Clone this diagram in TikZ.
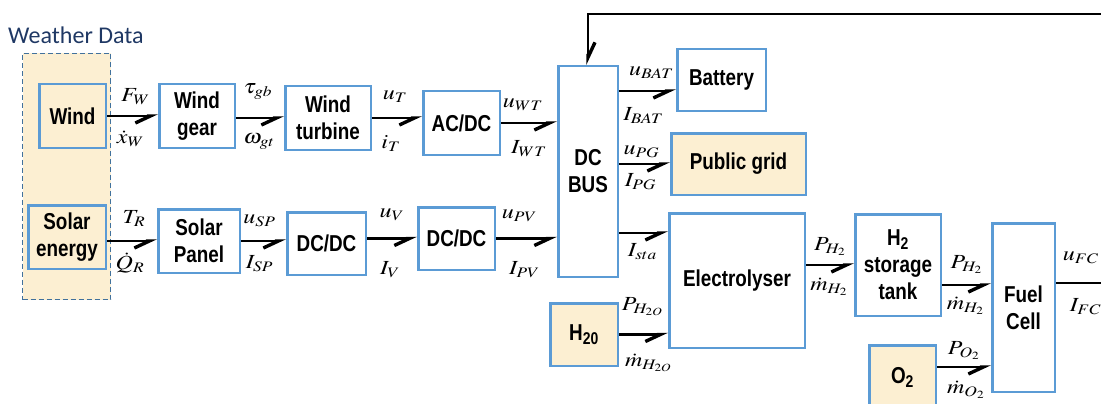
\documentclass[tikz,border=0pt]{standalone}
\usepackage{amsmath}
\usepackage{mathptmx}
\usepackage{graphicx}
\usepackage{fontspec}
\setmainfont{Liberation Sans}
\newfontfamily\boxfont[FakeStretch=0.82]{Liberation Sans}
\newfontfamily\titlefont{Carlito}
\usetikzlibrary{arrows.meta, positioning}
\definecolor{boxblue}{HTML}{5B9BD5}
\definecolor{srcfill}{HTML}{FCEFD2}
\definecolor{dashblue}{HTML}{41719C}
\definecolor{titleblue}{HTML}{1F3864}
\DeclareMathSizes{20}{20}{14.5}{11}
% wide math label, as in the drawing
\newcommand{\sig}[1]{\scalebox{1.2}[1]{$#1$}}

\begin{document}
\begin{tikzpicture}[x=1pt, y=-1pt,
    blk/.style={draw=boxblue, line width=2.5pt, fill=white, align=center, inner sep=0pt,
      font=\boxfont\bfseries\fontsize{23}{27}\selectfont},
    src/.style={blk, fill=srcfill},
    flow/.style={line width=2.8pt, -{Straight Barb[harpoon, swap, length=15pt, width=14pt, line width=3.4pt]}},
    flowdn/.style={line width=2.8pt, -{Straight Barb[harpoon, length=15pt, width=14pt, line width=3.4pt]}},
    lbl/.style={font=\fontsize{20}{24}\selectfont, inner sep=1pt, midway},
    up/.style={lbl, above=#1},
    dn/.style={lbl, below=#1}]
  \useasboundingbox (0,0) rectangle (1101,404);
  % Weather data
  \node[draw=dashblue, line width=1.5pt, dash pattern=on 5pt off 3pt, fill=srcfill,
        minimum width=88pt, minimum height=246pt] (wdata) at (66.5,176.5) {};
  \node[anchor=base west, text=titleblue, inner sep=0pt,
        font=\titlefont\fontsize{24}{26}\selectfont] (wtitle) at (8,44) {Weather Data};
  % Nodes
  \node[src, minimum width=66.5pt, minimum height=63.5pt] (wind) at (72.5,116) {Wind};
  \node[src, minimum width=77.5pt, minimum height=63.5pt] (solar) at (67,237) {Solar\\energy};
  \node[blk, minimum width=75.5pt, minimum height=63.5pt] (gear) at (197,116) {Wind\\gear};
  \node[blk, minimum width=81.5pt, minimum height=63.5pt] (panel) at (199,241) {Solar\\Panel};
  \node[blk, minimum width=85.5pt, minimum height=63.5pt] (turbine) at (328,118) {Wind\\turbine};
  \node[blk, minimum width=76.5pt, minimum height=63.5pt] (acdc) at (461.5,123) {AC/DC};
  \node[blk, minimum width=78.5pt, minimum height=62.5pt] (dcdc1) at (326.5,243.5) {DC/DC};
  \node[blk, minimum width=76.5pt, minimum height=62.5pt] (dcdc2) at (456.5,238.5) {DC/DC};
  \node[blk, minimum width=59.5pt, minimum height=210.5pt] (bus) at (588,171.5) {DC\\BUS};
  \node[blk, minimum width=88.5pt, minimum height=61.5pt] (battery) at (721.5,80) {Battery};
  \node[src, minimum width=134.5pt, minimum height=61.5pt] (grid) at (738.5,164) {Public grid};
  \node[blk, minimum width=135.5pt, minimum height=134.5pt] (elec) at (737,280.5) {Electrolyser};
  \node[src, minimum width=67.5pt, minimum height=62.5pt] (h2o) at (584,334.5) {H\textsubscript{20}};
  \node[blk, minimum width=85.5pt, minimum height=101.5pt] (tank) at (898,265) {H\textsubscript{2}\\storage\\tank};
  \node[blk, minimum width=62.5pt, minimum height=168.5pt] (fc) at (1023.5,307.5) {Fuel\\Cell};
  \node[src, minimum width=66.5pt, minimum height=63.5pt] (o2) at (902.5,377) {O\textsubscript{2}};
  % Helper points
  \coordinate (batin) at ([yshift=-11pt]battery.west);
  \coordinate (elin) at ([yshift=-21pt]elec.north west);
  \coordinate (fcin) at ([yshift=-20pt]tank.east);
  \coordinate (o2out) at ([yshift=-23pt]o2.north east);
  \coordinate (fcout) at ([yshift=-61pt]fc.north east);
  \coordinate (fcend) at (1115,0);
  \coordinate (fbstart) at (1115,14);
  % Edges
  \draw[flow] (wind) -- (gear) node[up=9pt, xshift=3pt] {\sig{F_W}} node[dn=12pt, xshift=-2pt] {\sig{\dot{x}_W}};
  \draw[flow] (gear.east |- turbine.west) -- (turbine.west) node[up=16pt, xshift=-2pt] {\sig{\tau_{gb}}} node[dn=13pt, xshift=-1pt] {\sig{\omega_{gt}}};
  \draw[flow] (turbine.east) -- (turbine.east -| acdc.west) node[up=13pt, xshift=-2pt] {\sig{u_T}} node[dn=15pt, xshift=-6pt] {\sig{i_T}};
  \draw[flow] (acdc.east) -- (acdc.east -| bus.west) node[up=10pt, xshift=-6pt] {\sig{u_{WT}}} node[dn=15pt] {\sig{I_{WT}}};
  \draw[flow] (solar.east |- panel.west) -- (panel.west) node[up=12pt, xshift=2pt] {\sig{T_R}} node[dn=9pt, xshift=-2pt] {\sig{\dot{Q}_R}};
  \draw[flow] (panel.east) -- (panel.east -| dcdc1.west) node[up=12pt, xshift=-4pt] {\sig{u_{SP}}} node[dn=12pt, xshift=-4pt] {\sig{I_{SP}}};
  \draw[flow] (dcdc1.east |- dcdc2.west) -- (dcdc2.west) node[up=15pt] {\sig{u_V}} node[dn=21pt, xshift=-2pt] {\sig{I_V}};
  \draw[flow] (dcdc2.east) -- (dcdc2.east -| bus.west) node[up=14pt, xshift=-7pt] {\sig{u_{PV}}} node[dn=21pt, xshift=-2pt] {\sig{I_{PV}}};
  \draw[flow] (bus.east |- batin) -- (batin) node[up=10pt, xshift=4pt] {\sig{u_{BAT}}} node[dn=14pt, xshift=-4pt] {\sig{I_{BAT}}};
  \draw[flow] (bus.east |- grid.west) -- (grid.west) node[up=4pt, xshift=-3pt] {\sig{u_{PG}}} node[dn=7pt, xshift=-4pt] {\sig{I_{PG}}};
  \draw[flow] (bus.east |- elin) -- (elin) node[dn=8pt, xshift=-1pt] {\sig{I_{sta}}};
  \draw[flow] (h2o.east) -- (h2o.east -| elec.west) node[up=16pt, xshift=-1pt] {\sig{P_{H_{2O}}}} node[dn=17pt, xshift=5pt] {\sig{\dot{m}_{H_{2O}}}};
  \draw[flow] (elec.east |- tank.west) -- (tank.west) node[up=7pt] {\sig{P_{H_2}}} node[dn=10pt, xshift=-1pt] {\sig{\dot{m}_{H_2}}};
  \draw[flow] (fcin) -- (fcin -| fc.west) node[up=9pt] {\sig{P_{H_2}}} node[dn=9pt, xshift=-1pt] {\sig{\dot{m}_{H_2}}};
  \draw[flow] (o2out) -- (o2out -| fc.west) node[up=5pt] {\sig{P_{O_2}}} node[dn=11pt, xshift=2pt] {\sig{\dot{m}_{O_2}}};
  \draw[line width=2.8pt] (fcout) -- (fcout -| fcend) node[up=17pt, pos=0.42] {\sig{u_{FC}}} node[dn=13pt, pos=0.5] {\sig{I_{FC}}};
  \draw[flowdn] (fbstart) -| (bus.north);
\end{tikzpicture}
\end{document}
